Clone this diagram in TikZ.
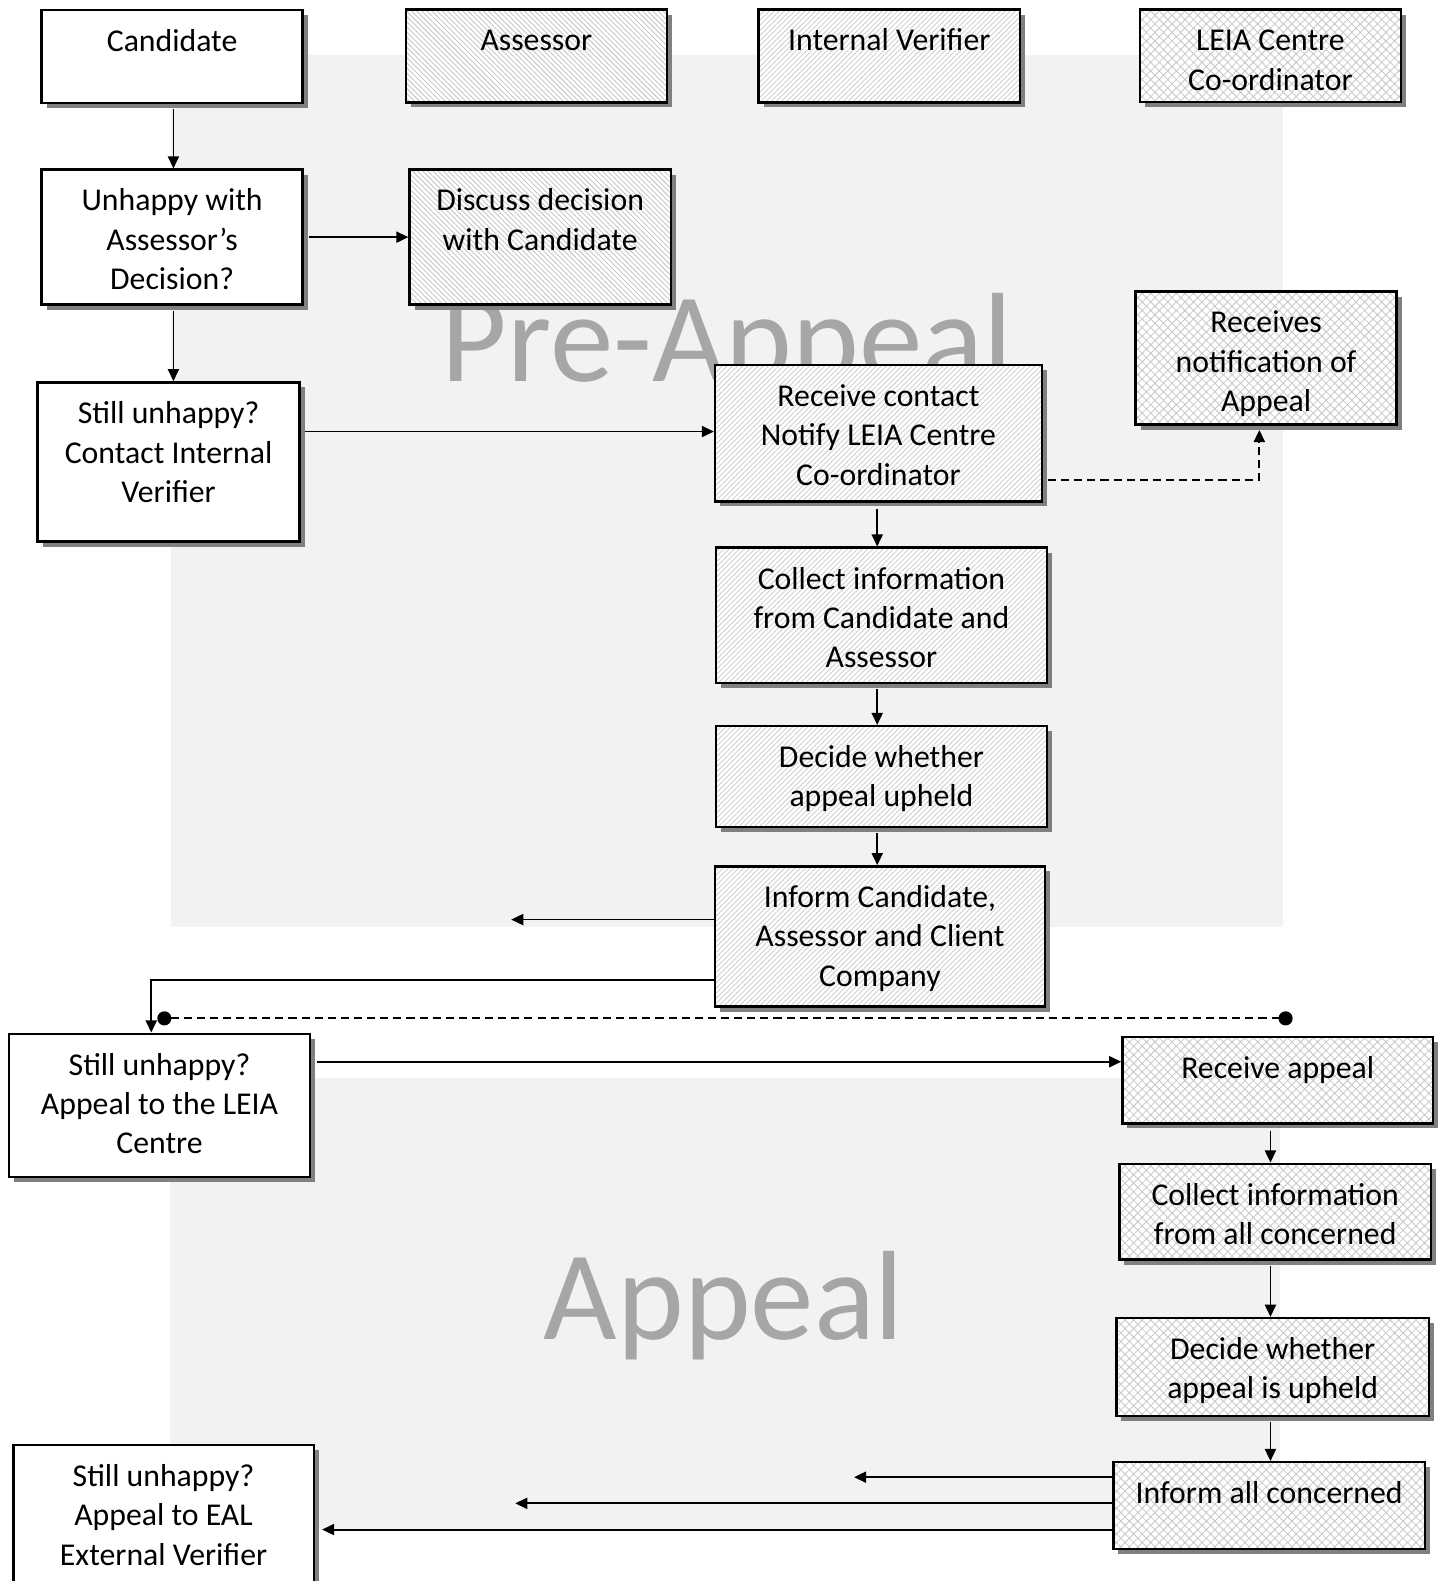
\documentclass[tikz,border=0pt]{standalone}
\usepackage{fontspec}
\setmainfont{Carlito}
\usetikzlibrary{arrows.meta,patterns.meta,shadows}
\definecolor{bgg}{HTML}{F2F2F2}
\definecolor{wmg}{HTML}{A6A6A6}
\tikzset{
  box/.style={draw=black, line width=2.4pt, inner sep=0pt, anchor=north west,
     font=\fontsize{31.5}{39}\selectfont,
     drop shadow={shadow xshift=5pt, shadow yshift=-5pt, fill=black!50, opacity=1},
     preaction={fill=white}},
  plain/.style={fill=white},
  nwl/.style={pattern={Lines[angle=-45,distance=3.6pt,line width=0.9pt]}, pattern color=black!22},
  nel/.style={pattern={Lines[angle=45,distance=3.6pt,line width=0.9pt]}, pattern color=black!18},
  hat/.style={pattern={Hatch[angle=45,distance=6pt,line width=0.8pt]}, pattern color=black!22},
  conn/.style={line width=1.8pt, -{Triangle[length=12pt,width=11pt]}},
  dsh/.style={line width=1.8pt, dash pattern=on 8pt off 5pt},
  wm/.style={text=wmg, font=\fontsize{126}{130}\selectfont, inner sep=0pt}
}
\newcommand\bx[7]{\node[box,#6] (#1) at (#2,-#3) {\parbox[t][\dimexpr #5pt-#3pt\relax][t]{\dimexpr #4pt-#2pt\relax}{\centering\rule{0pt}{41pt}#7}};}
\begin{document}
\begin{tikzpicture}[x=1pt,y=1pt]
\useasboundingbox (0,0) rectangle (1433,-1568);
\clip (0,0) rectangle (1433,-1568);
% swimlane backgrounds
\fill[bgg] (170,-55) rectangle (1272,-919);
\fill[bgg] (169,-1069) rectangle (1269,-1517);
% watermarks
\node[wm, anchor=base] (wpre) at (721,-378) {Pre-Appeal};
\node[wm, anchor=base] (wapp) at (718,-1328) {Appeal};
% boxes
\bx{cand}{40}{9}{299}{101}{plain}{Candidate}
\bx{ass}{402}{9}{661}{101}{nwl}{Assessor}
\bx{iv}{752}{9}{1011}{101}{nel}{Internal Verifier}
\bx{leia}{1130}{9}{1389}{101}{hat}{LEIA Centre\\Co-ordinator}
\bx{unh}{40}{167}{299}{301}{plain}{Unhappy with\\Assessor’s\\Decision?}
\bx{dis}{405}{167}{664}{301}{nwl}{Discuss decision\\with Candidate}
\bx{siv}{36}{378}{296}{536}{plain}{Still unhappy?\\Contact Internal\\Verifier}
\bx{rc}{708}{361}{1032}{496}{nel}{Receive contact\\Notify LEIA Centre\\Co-ordinator}
\bx{notif}{1125}{288}{1384}{420}{hat}{Receives\\notification of\\Appeal}
\bx{col}{709}{542}{1037}{676}{nel}{Collect information\\from Candidate and\\Assessor}
\bx{dec}{709}{719}{1037}{819}{nel}{Decide whether\\appeal upheld}
\bx{inf}{708}{858}{1035}{997}{nel}{Inform Candidate,\\Assessor and Client\\Company}
\bx{sl}{8}{1024}{306}{1166}{plain}{Still unhappy?\\Appeal to the LEIA\\Centre}
\bx{ra}{1112}{1027}{1420}{1113}{hat}{Receive appeal}
\bx{ca}{1109}{1153}{1418}{1248}{hat}{Collect information\\from all concerned}
\bx{da}{1106}{1306}{1416}{1403}{hat}{Decide whether\\appeal is upheld}
\bx{ia}{1103}{1449}{1412}{1535}{hat}{Inform all concerned}
\bx{eal}{12}{1432}{310}{1600}{plain}{Still unhappy?\\Appeal to EAL\\External Verifier}
% column helpers
\coordinate (cL) at (172,0);
\coordinate (cM) at (870,0);
\coordinate (cR) at (1260,0);
% connectors
\draw[conn, shorten <=5pt] (cand.south -| cL) -- (unh.north -| cL);
\draw[conn, shorten <=5pt] (unh.east) -- (dis.west);
\draw[conn, shorten <=5pt] (unh.south -| cL) -- (siv.north -| cL);
\draw[conn, shorten <=4pt] (siv.east |- 0,-428) -- (rc.west |- 0,-428);
\draw[dsh, -{Triangle[length=12pt,width=11pt]}, shorten <=5pt, shorten >=4pt] (rc.east |- 0,-476) -| (notif.south -| 1249,0);
\draw[conn, shorten <=6pt] (rc.south -| cM) -- (col.north -| cM);
\draw[conn, shorten <=5pt] (col.south -| cM) -- (dec.north -| cM);
\draw[conn, shorten <=5pt] (dec.south -| cM) -- (inf.north -| cM);
\coordinate (e1) at (507,-912);
\draw[conn] (inf.west |- e1) -- (e1);
\draw[conn] (inf.west |- 0,-972) -| (sl.north -| 150,0);
\coordinate (dA) at (156,-1010);
\coordinate (dB) at (1282,-1010);
\draw[dsh, {Circle[length=14pt]}-{Circle[length=14pt]}] (dA) -- (dB);
\draw[conn, shorten <=6pt] (sl.east |- 0,-1053) -- (ra.west |- 0,-1053);
\draw[conn, shorten <=6pt] (ra.south -| cR) -- (ca.north -| cR);
\draw[conn, shorten <=5pt] (ca.south -| cR) -- (da.north -| cR);
\draw[conn, shorten <=5pt] (da.south -| cR) -- (ia.north -| cR);
\coordinate (e2) at (847,-1465);
\coordinate (e3) at (511,-1491);
\draw[conn] (ia.west |- e2) -- (e2);
\draw[conn] (ia.west |- e3) -- (e3);
\draw[conn, shorten >=7pt] (ia.west |- 0,-1517) -- (eal.east |- 0,-1517);
\end{tikzpicture}
\end{document}
